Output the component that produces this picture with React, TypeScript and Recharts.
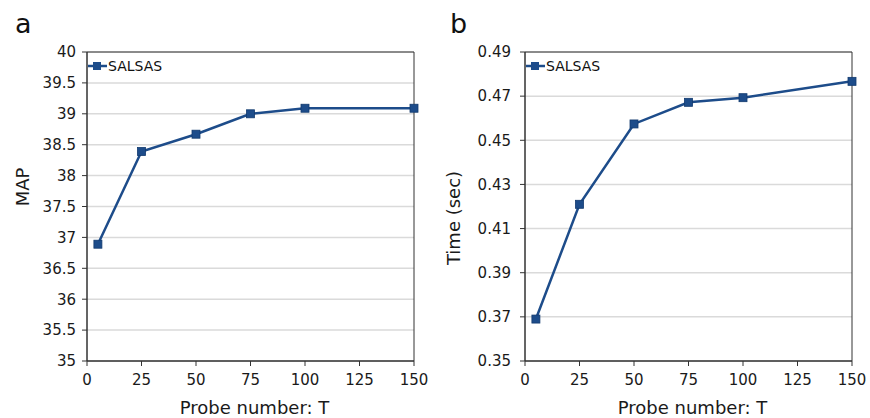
import { LineChart, Line, XAxis, YAxis, CartesianGrid, Legend, ReferenceArea } from "recharts"

const probes = [5, 25, 50, 75, 100, 150]
const mapValues = [36.89, 38.39, 38.67, 39.0, 39.09, 39.09]
const timeValues = [0.369, 0.421, 0.4574, 0.4672, 0.4693, 0.4767]
const xTicks = [0, 25, 50, 75, 100, 125, 150]
const mapTicks = [35, 35.5, 36, 36.5, 37, 37.5, 38, 38.5, 39, 39.5, 40]
const timeTicks = [0.35, 0.37, 0.39, 0.41, 0.43, 0.45, 0.47, 0.49]
const seriesName = "SALSAS"

const FONT = "'DejaVu Sans', sans-serif"
const BLUE = "#1d4c8a"
const DARK = "#333"

const mapData = probes.map((t, i) => ({ t, value: mapValues[i] }))
const timeData = probes.map((t, i) => ({ t, value: timeValues[i] }))

function SquareDot(props: any) {
  const { cx, cy, index } = props
  if (cx == null || cy == null) return null
  return <rect key={`dot-${index}`} x={cx - 4} y={cy - 4} width={8} height={8} fill={BLUE} stroke="#123a6e" strokeWidth={0.8} />
}

function LegendBox() {
  return (
    <div style={{ display: "flex", alignItems: "center", fontFamily: FONT, fontSize: 14, color: "#111", whiteSpace: "nowrap" }}>
      <svg width={19} height={10}>
        <line x1={0} y1={5} x2={19} y2={5} stroke={BLUE} strokeWidth={2.5} />
        <rect x={5} y={1} width={8} height={8} fill={BLUE} />
      </svg>
      <span style={{ marginLeft: 1 }}>{seriesName}</span>
    </div>
  )
}

interface PanelProps {
  data: { t: number; value: number }[]
  letter: string
  yTitle: string
  yTitleX: number
  yTitleY: number
  yTicks: number[]
  yDomain: [number, number]
  yWidth: number
  width: number
  right: number
  tickFmt: (v: number) => string
  tickMargin: number
}

function Panel({ data, letter, yTitle, yTitleX, yTitleY, yTicks, yDomain, yWidth, width, right, tickFmt, tickMargin }: PanelProps) {
  const plotCenter = yWidth + (width - yWidth - right) / 2
  return (
    <LineChart width={width} height={418} data={data} margin={{ top: 52, right, bottom: 0, left: 0 }}>
      <CartesianGrid vertical={false} stroke="#dadada" strokeWidth={1.5} />
      <XAxis
        dataKey="t"
        type="number"
        domain={[0, 150]}
        ticks={xTicks}
        height={57}
        tickSize={5}
        tickMargin={8}
        stroke={DARK}
        tick={{ fill: "#1a1a1a", fontSize: 15, fontFamily: FONT }}
        label={{
          content: () => (
            <text x={plotCenter + 4} y={414} textAnchor="middle" fontSize={18} fontFamily={FONT} fill="#1a1a1a">
              Probe number: T
            </text>
          ),
        }}
      />
      <YAxis
        type="number"
        domain={yDomain}
        ticks={yTicks}
        width={yWidth}
        tickSize={5}
        tickMargin={tickMargin}
        stroke={DARK}
        tickFormatter={tickFmt}
        tick={{ fill: "#1a1a1a", fontSize: 15, fontFamily: FONT }}
        label={{
          content: () => (
            <g>
              <text x={yWidth === 87 ? 15 : 20} y={33} fontSize={27} fontFamily={FONT} fill="#111">
                {letter}
              </text>
              <text
                x={yTitleX}
                y={yTitleY}
                textAnchor="middle"
                fontSize={18}
                fontFamily={FONT}
                fill="#1a1a1a"
                transform={`rotate(-90 ${yTitleX} ${yTitleY})`}
                dominantBaseline="central"
              >
                {yTitle}
              </text>
            </g>
          ),
        }}
      />
      <ReferenceArea x1={0} x2={150} y1={yDomain[0]} y2={yDomain[1]} fill="none" stroke={DARK} strokeWidth={1} />
      <Legend
        layout="vertical"
        align="center"
        verticalAlign="middle"
        wrapperStyle={{ top: 58, left: yWidth + 1, width: "auto" }}
        content={() => <LegendBox />}
      />
      <Line
        type="linear"
        dataKey="value"
        name={seriesName}
        stroke={BLUE}
        strokeWidth={2.5}
        dot={SquareDot}
        activeDot={false}
        isAnimationActive={false}
      />
    </LineChart>
  )
}

export default function App() {
  return (
    <div style={{ position: "absolute", left: 0, top: 0, width: 870, height: 418, background: "#fff" }}>
      <div style={{ position: "absolute", left: 0, top: 0 }}>
        <Panel
          data={mapData}
          letter="a"
          yTitle="MAP"
          yTitleX={22}
          yTitleY={187}
          yTicks={mapTicks}
          yDomain={[35, 40]}
          yWidth={87}
          width={430}
          right={16}
          tickFmt={(v) => String(v)}
          tickMargin={6}
        />
      </div>
      <div style={{ position: "absolute", left: 430, top: 0 }}>
        <Panel
          data={timeData}
          letter="b"
          yTitle="Time (sec)"
          yTitleX={23}
          yTitleY={218}
          yTicks={timeTicks}
          yDomain={[0.35, 0.49]}
          yWidth={95}
          width={440}
          right={18}
          tickFmt={(v) => v.toFixed(2)}
          tickMargin={9}
        />
      </div>
    </div>
  )
}
